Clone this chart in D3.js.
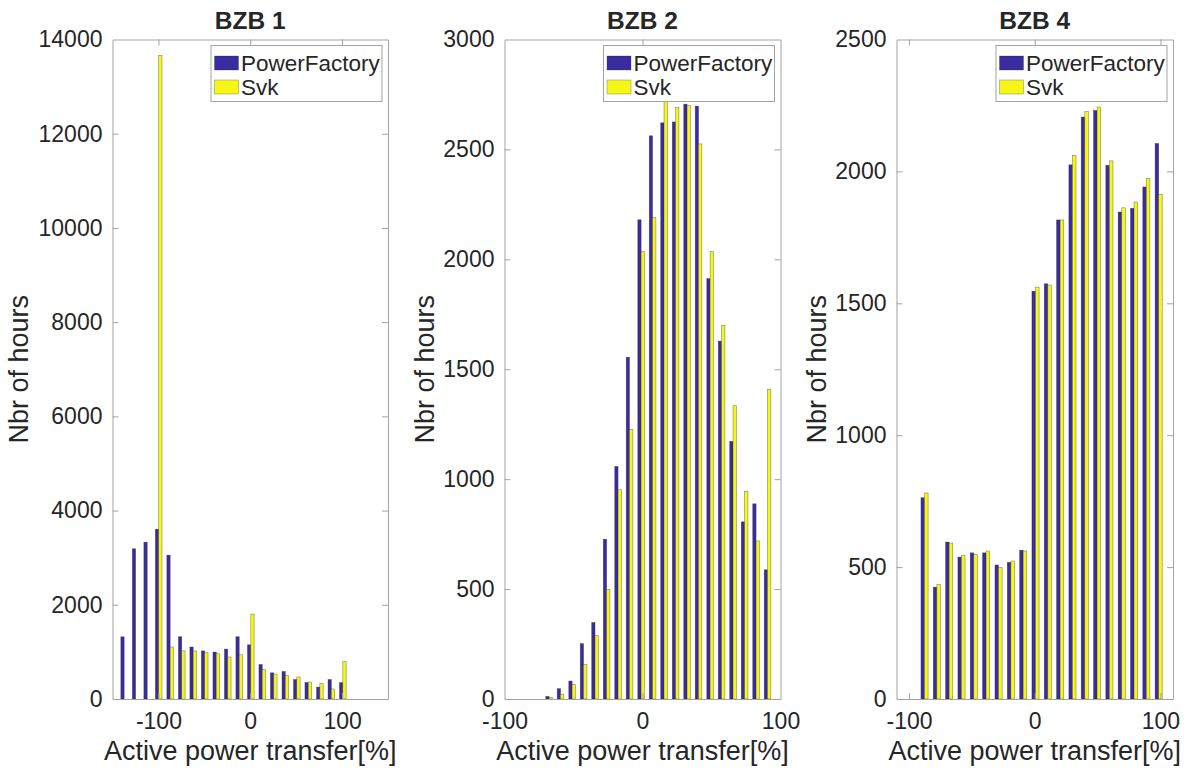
<!DOCTYPE html>
<html>
<head>
<meta charset="utf-8">
<script src="https://cdn.jsdelivr.net/npm/d3@7"></script>
<style>
  body { margin: 0; background: #fff; }
  text { font-family: "Liberation Sans", Arial, Helvetica, sans-serif; fill: #262626; }
</style>
</head>
<body>
<svg id="chart" width="1191" height="769"></svg>
<script>
// series
var seriesNames = ['PowerFactory', 'Svk'];
var seriesColors = ['#3a2c9f', '#f6f617'];

// BZB 1
var bzb1Bins = [-137.3, -124.8, -112.2, -99.7, -87.2, -74.6, -62.1, -49.6, -37.0, -24.5,
                -12.0, 0.6, 13.1, 25.6, 38.2, 50.7, 63.2, 75.8, 88.3, 100.8];
var bzb1PowerFactory = [1320, 3190, 3330, 3605, 3054, 1322, 1104, 1022, 997, 1060,
                        1322, 1150, 733, 556, 585, 414, 352, 253, 414, 348];
var bzb1Svk = [0, 0, 0, 13660, 1104, 1022, 1020, 983, 961, 891,
               940, 1803, 622, 530, 495, 467, 360, 325, 212, 792];
var bzb1YTicks = [0, 2000, 4000, 6000, 8000, 10000, 12000, 14000];
var bzb1XTicks = [-100, 0, 100];

// BZB 2
var bzb2Bins = [-67.7, -59.4, -51.0, -42.7, -34.4, -26.0, -17.7, -9.4, -1.0, 7.3,
                15.6, 24.0, 32.3, 40.6, 49.0, 57.3, 65.6, 74.0, 82.3, 90.6];
var bzb2PowerFactory = [12, 47, 82, 252, 348, 727, 1058, 1555, 2180, 2562,
                        2621, 2625, 2706, 2697, 1912, 1628, 1172, 806, 888, 588];
var bzb2Svk = [8, 22, 66, 158, 288, 499, 952, 1226, 2035, 2190,
               2720, 2690, 2700, 2525, 2035, 1700, 1334, 943, 719, 1408];
var bzb2YTicks = [0, 500, 1000, 1500, 2000, 2500, 3000];
var bzb2XTicks = [-100, 0, 100];

// BZB 4
var bzb4Bins = [-87.7, -77.9, -68.1, -58.3, -48.5, -38.7, -28.8, -19.0, -9.2, 0.6,
                10.4, 20.2, 30.0, 39.8, 49.6, 59.4, 69.2, 79.0, 88.8, 98.6];
var bzb4PowerFactory = [763, 424, 595, 538, 554, 554, 508, 518, 564, 1546,
                        1574, 1816, 2025, 2206, 2231, 2023, 1846, 1860, 1941, 2106];
var bzb4Svk = [781, 434, 591, 545, 548, 561, 498, 523, 561, 1561,
               1569, 1816, 2061, 2227, 2244, 2040, 1862, 1884, 1974, 1913];
var bzb4YTicks = [0, 500, 1000, 1500, 2000, 2500];
var bzb4XTicks = [-100, 0, 100];

var panels = [
  { title: 'BZB 1', left: 112.5, right: 388, xDomain: [-150, 150], yMax: 14000,
    bins: bzb1Bins, series: [bzb1PowerFactory, bzb1Svk], yTicks: bzb1YTicks, xTicks: bzb1XTicks, yLabelX: 28 },
  { title: 'BZB 2', left: 504.5, right: 780.5, xDomain: [-100, 100], yMax: 3000,
    bins: bzb2Bins, series: [bzb2PowerFactory, bzb2Svk], yTicks: bzb2YTicks, xTicks: bzb2XTicks, yLabelX: 434 },
  { title: 'BZB 4', left: 896.5, right: 1173, xDomain: [-110, 110], yMax: 2500,
    bins: bzb4Bins, series: [bzb4PowerFactory, bzb4Svk], yTicks: bzb4YTicks, xTicks: bzb4XTicks, yLabelX: 826 }
];

var plotTop = 39.5, plotBottom = 699;
var axisColor = '#a3a3a3';
var tickFmt = function(d) { return String(d); };   // plain hyphen minus, like the original
var svg = d3.select('#chart');

panels.forEach(function(p) {
  var g = svg.append('g').attr('class', 'panel');
  var x = d3.scaleLinear().domain(p.xDomain).range([p.left, p.right]);
  var y = d3.scaleLinear().domain([0, p.yMax]).range([plotBottom, plotTop]);
  var stepPx = x(p.bins[1]) - x(p.bins[0]);
  var barW = stepPx * 0.29;

  // bars
  p.series.forEach(function(values, s) {
    g.append('g')
      .selectAll('rect')
      .data(values.map(function(v, i) { return { bin: p.bins[i], value: v }; })
                  .filter(function(d) { return d.value > 0; }))
      .enter()
      .append('rect')
      .attr('x', function(d) { return x(d.bin) - barW + s * barW; })
      .attr('y', function(d) { return y(d.value); })
      .attr('width', barW)
      .attr('height', function(d) { return y(0) - y(d.value); })
      .attr('fill', seriesColors[s])
      .attr('stroke', '#2a2a2a')
      .attr('stroke-opacity', 0.55)
      .attr('stroke-width', 0.6);
  });

  // axes, ticks pointing inward
  var tickLen = 6;
  var xBottom = g.append('g').attr('transform', 'translate(0,' + plotBottom + ')')
    .call(d3.axisBottom(x).tickValues(p.xTicks).tickSizeInner(-tickLen).tickSizeOuter(0).tickPadding(14).tickFormat(tickFmt));
  var xTop = g.append('g').attr('transform', 'translate(0,' + plotTop + ')')
    .call(d3.axisTop(x).tickValues(p.xTicks).tickSizeInner(-tickLen).tickSizeOuter(0).tickFormat(''));
  var yLeft = g.append('g').attr('transform', 'translate(' + p.left + ',0)')
    .call(d3.axisLeft(y).tickValues(p.yTicks).tickSizeInner(-tickLen).tickSizeOuter(0).tickPadding(10).tickFormat(tickFmt));
  var yRight = g.append('g').attr('transform', 'translate(' + p.right + ',0)')
    .call(d3.axisRight(y).tickValues(p.yTicks).tickSizeInner(-tickLen).tickSizeOuter(0).tickFormat(''));

  [xBottom, xTop, yLeft, yRight].forEach(function(a) {
    a.selectAll('.domain').attr('stroke', axisColor).attr('stroke-width', 1);
    a.selectAll('.tick line').attr('stroke', axisColor).attr('stroke-width', 1);
    a.selectAll('.tick text')
      .attr('font-size', 23)
      .attr('font-family', '"Liberation Sans", Arial, sans-serif')
      .attr('fill', '#262626');
  });
  // the end ticks sit on the box edges, drop those that overlap the frame
  [xTop, xBottom].forEach(function(a) {
    a.selectAll('.tick').filter(function(d) { return x(d) <= p.left + 1 || x(d) >= p.right - 1; }).select('line').remove();
  });
  [yLeft, yRight].forEach(function(a) {
    a.selectAll('.tick').filter(function(d) { return d === 0 || d === p.yMax; }).select('line').remove();
  });

  // title
  g.append('text')
    .attr('x', (p.left + p.right) / 2)
    .attr('y', 29)
    .attr('text-anchor', 'middle')
    .attr('font-size', 24.5)
    .attr('font-weight', 'bold')
    .attr('fill', '#000')
    .text(p.title);

  // axis labels
  g.append('text')
    .attr('x', (p.left + p.right) / 2)
    .attr('y', 760)
    .attr('text-anchor', 'middle')
    .attr('font-size', 27)
    .text('Active power transfer[%]');

  g.append('text')
    .attr('transform', 'translate(' + p.yLabelX + ',' + ((plotTop + plotBottom) / 2) + ') rotate(-90)')
    .attr('text-anchor', 'middle')
    .attr('font-size', 27)
    .text('Nbr of hours');

  // legend
  var legW = 171, legH = 56;
  var legend = g.append('g')
    .attr('transform', 'translate(' + (p.right - 6 - legW) + ',' + (plotTop + 6) + ')');
  legend.append('rect')
    .attr('width', legW)
    .attr('height', legH)
    .attr('fill', '#fff')
    .attr('stroke', axisColor)
    .attr('stroke-width', 1);
  seriesNames.forEach(function(name, s) {
    legend.append('rect')
      .attr('x', 3.5)
      .attr('y', 10.5 + s * 24)
      .attr('width', 24)
      .attr('height', 14)
      .attr('fill', seriesColors[s])
      .attr('stroke', '#2a2a2a')
      .attr('stroke-opacity', 0.45)
      .attr('stroke-width', 0.6);
    legend.append('text')
      .attr('x', 30)
      .attr('y', 17.5 + s * 24)
      .attr('dy', '0.35em')
      .attr('font-size', 22.5)
      .attr('fill', '#000')
      .text(name);
  });
});
</script>
</body>
</html>
